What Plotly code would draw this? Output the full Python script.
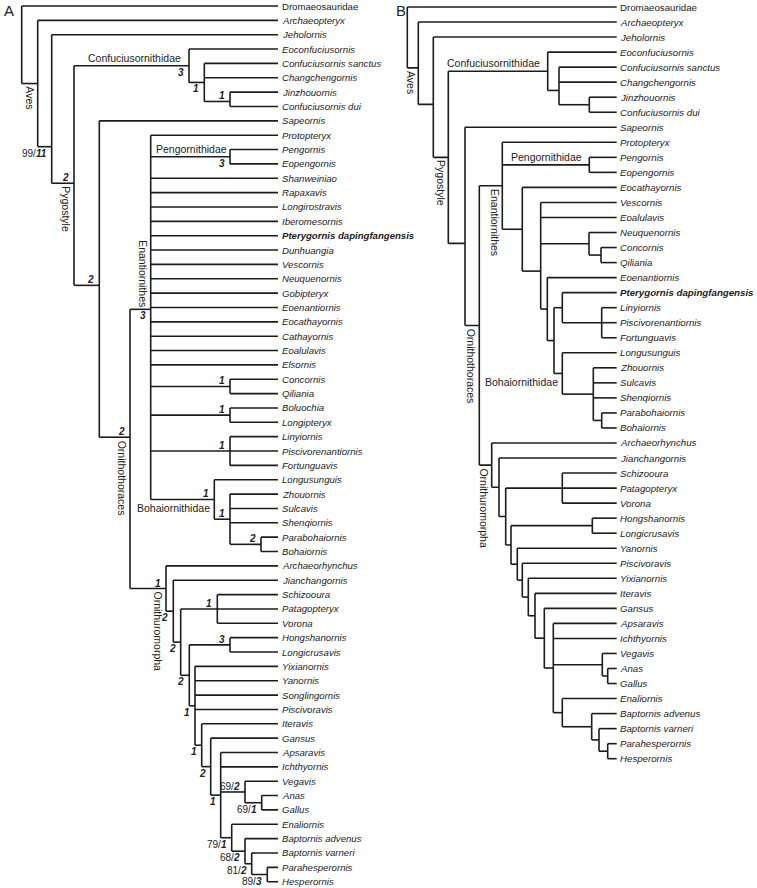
import plotly.graph_objects as go

# ---------------- Tree A (data) ----------------
A_LEAVES = [
    "Dromaeosauridae", "Archaeopteryx", "Jeholornis", "Eoconfuciusornis",
    "Confuciusornis sanctus", "Changchengornis", "Jinzhouornis", "Confuciusornis dui",
    "Sapeornis", "Protopteryx", "Pengornis", "Eopengornis", "Shanweiniao", "Rapaxavis",
    "Longirostravis", "Iberomesornis", "Pterygornis dapingfangensis", "Dunhuangia",
    "Vescornis", "Neuquenornis", "Gobipteryx", "Eoenantiornis", "Eocathayornis",
    "Cathayornis", "Eoalulavis", "Elsornis", "Concornis", "Qiliania", "Boluochia",
    "Longipteryx", "Linyiornis", "Piscivorenantiornis", "Fortunguavis", "Longusunguis",
    "Zhouornis", "Sulcavis", "Shenqiornis", "Parabohaiornis", "Bohaiornis",
    "Archaeorhynchus", "Jianchangornis", "Schizooura", "Patagopteryx", "Vorona",
    "Hongshanornis", "Longicrusavis", "Yixianornis", "Yanornis", "Songlingornis",
    "Piscivoravis", "Iteravis", "Gansus", "Apsaravis", "Ichthyornis", "Vegavis",
    "Anas", "Gallus", "Enaliornis", "Baptornis advenus", "Baptornis varneri",
    "Parahesperornis", "Hesperornis",
]
A_NODES = ["R", "Aves", "N2", "P", "C", "C2", "C3", "O1", "Or", "E", "Peng", "CQ", "BL",
           "LPF", "B", "B2", "B3", "U", "U2", "U3", "SPV", "U4", "HL", "U5", "U6", "U7",
           "U8", "V1", "V2", "H1", "H2", "H3", "H4"]
A_DEPTH = [21.7, 37.7, 51.7, 74, 189, 204.3, 230, 99.3, 130, 150.7, 230, 230, 230,
           230, 214.3, 230, 261, 166, 173.3, 180.7, 217.3, 189.3, 230, 195, 201.7, 210.7,
           220.7, 245, 261.7, 231.7, 245, 251.7, 267.3]
A_CHILDREN = [
    ["Dromaeosauridae", "Aves"],
    ["Archaeopteryx", "N2"],
    ["Jeholornis", "P"],
    ["C", "O1"],
    ["Eoconfuciusornis", "C2"],
    ["Confuciusornis sanctus", "Changchengornis", "C3"],
    ["Jinzhouornis", "Confuciusornis dui"],
    ["Sapeornis", "Or"],
    ["E", "U"],
    ["Protopteryx", "Peng", "Shanweiniao", "Rapaxavis", "Longirostravis", "Iberomesornis",
     "Pterygornis dapingfangensis", "Dunhuangia", "Vescornis", "Neuquenornis", "Gobipteryx",
     "Eoenantiornis", "Eocathayornis", "Cathayornis", "Eoalulavis", "Elsornis", "CQ", "BL",
     "LPF", "B"],
    ["Pengornis", "Eopengornis"],
    ["Concornis", "Qiliania"],
    ["Boluochia", "Longipteryx"],
    ["Linyiornis", "Piscivorenantiornis", "Fortunguavis"],
    ["Longusunguis", "B2"],
    ["Zhouornis", "Sulcavis", "Shenqiornis", "B3"],
    ["Parabohaiornis", "Bohaiornis"],
    ["Archaeorhynchus", "U2"],
    ["Jianchangornis", "U3"],
    ["SPV", "U4"],
    ["Schizooura", "Patagopteryx", "Vorona"],
    ["HL", "U5"],
    ["Hongshanornis", "Longicrusavis"],
    ["Yixianornis", "Yanornis", "Songlingornis", "Piscivoravis", "U6"],
    ["Iteravis", "U7"],
    ["Gansus", "U8"],
    ["Apsaravis", "Ichthyornis", "V1", "H1"],
    ["Vegavis", "V2"],
    ["Anas", "Gallus"],
    ["Enaliornis", "H2"],
    ["Baptornis advenus", "H3"],
    ["Baptornis varneri", "H4"],
    ["Parahesperornis", "Hesperornis"],
]
A_TIP = 278
# support: node, bootstrap, Bremer
A_SUP_NODE = ["N2", "P", "C", "C2", "C3", "Peng", "O1", "Or", "E", "CQ", "BL", "LPF", "B",
              "B2", "B3", "U", "U2", "U3", "SPV", "U4", "HL", "U5", "U6", "U7", "U8",
              "V1", "V2", "H1", "H2", "H3", "H4"]
A_SUP_BOOT = [99, None, None, None, None, None, None, None, None, None, None, None, None,
              None, None, None, None, None, None, None, None, None, None, None, None,
              69, 69, 79, 68, 81, 89]
A_SUP_BREMER = [11, 2, 3, 1, 1, 3, 2, 2, 3, 1, 1, 1, 1,
                1, 2, 1, 2, 2, 1, 2, 3, 1, 1, 2, 1,
                2, 1, 1, 2, 2, 3]
A_SUP_SIDE = ["below", "above", "below", "below", "above", "below", "above", "above", "below",
              "above", "above", "above", "above", "above", "above", "above", "below", "below",
              "above", "below", "above", "below", "below", "below", "below",
              "above", "below", "below", "below", "below", "below"]
A_CLADE_NAME = ["Aves", "Pygostyle", "Ornithothoraces", "Enantiornithes", "Ornithuromorpha",
                "Confuciusornithidae", "Pengornithidae", "Bohaiornithidae"]
A_CLADE_NODE = ["Aves", "P", "Or", "E", "U", "C", "Peng", "B"]
A_CLADE_ROT = [True, True, True, True, True, False, False, False]
A_CLADE_SIDE = ["below", "below", "below", "above", "below", "above", "above", "below"]
A_CLADE_SHIFT = [0, 0, 0, 0, 0, -6, -1, -2]

# ---------------- Tree B (data) ----------------
B_LEAVES = [
    "Dromaeosauridae", "Archaeopteryx", "Jeholornis", "Eoconfuciusornis",
    "Confuciusornis sanctus", "Changchengornis", "Jinzhouornis", "Confuciusornis dui",
    "Sapeornis", "Protopteryx", "Pengornis", "Eopengornis", "Eocathayornis", "Vescornis",
    "Eoalulavis", "Neuquenornis", "Concornis", "Qiliania", "Eoenantiornis",
    "Pterygornis dapingfangensis", "Linyiornis", "Piscivorenantiornis", "Fortunguavis",
    "Longusunguis", "Zhouornis", "Sulcavis", "Shenqiornis", "Parabohaiornis", "Bohaiornis",
    "Archaeorhynchus", "Jianchangornis", "Schizooura", "Patagopteryx", "Vorona",
    "Hongshanornis", "Longicrusavis", "Yanornis", "Piscivoravis", "Yixianornis",
    "Iteravis", "Gansus", "Apsaravis", "Ichthyornis", "Vegavis", "Anas", "Gallus",
    "Enaliornis", "Baptornis advenus", "Baptornis varneri", "Parahesperornis", "Hesperornis",
]
B_NODES = ["Rb", "AvesB", "N2b", "Pb", "Cb", "C2b", "C3b", "O1b", "Orb", "Eb", "Pengb",
           "E2b", "E3b", "NCQb", "CQb", "E4b", "E5b", "PLPFb", "LPFb", "Bb", "B2b", "B3b",
           "Ub", "U2b", "U3b", "SPVb", "U4b", "HLb", "U5b", "U6b", "U7b", "U8b", "U9b",
           "U10b", "V1b", "V2b", "H1b", "H2b", "H3b", "H4b"]
B_DEPTH = [407.3, 418.3, 433.3, 448.3, 547.7, 559, 589.3, 465, 479.3, 502.3, 589.3,
           522.3, 540.7, 589, 601, 547.3, 554, 562.3, 601.7, 562.3, 593.3, 601.7,
           491.7, 499, 505.7, 562.3, 511, 592.3, 517.3, 522.3, 528.3, 535, 544.3,
           553.3, 602.3, 607.7, 562.3, 591.7, 599, 607.7]
B_CHILDREN = [
    ["Dromaeosauridae", "AvesB"],
    ["Archaeopteryx", "N2b"],
    ["Jeholornis", "Pb"],
    ["Cb", "O1b"],
    ["Eoconfuciusornis", "C2b"],
    ["Confuciusornis sanctus", "Changchengornis", "C3b"],
    ["Jinzhouornis", "Confuciusornis dui"],
    ["Sapeornis", "Orb"],
    ["Eb", "Ub"],
    ["Protopteryx", "Pengb", "E2b"],
    ["Pengornis", "Eopengornis"],
    ["Eocathayornis", "E3b"],
    ["Vescornis", "Eoalulavis", "NCQb", "E4b"],
    ["Neuquenornis", "CQb"],
    ["Concornis", "Qiliania"],
    ["Eoenantiornis", "E5b"],
    ["PLPFb", "Bb"],
    ["Pterygornis dapingfangensis", "LPFb"],
    ["Linyiornis", "Piscivorenantiornis", "Fortunguavis"],
    ["Longusunguis", "B2b"],
    ["Zhouornis", "Sulcavis", "Shenqiornis", "B3b"],
    ["Parabohaiornis", "Bohaiornis"],
    ["Archaeorhynchus", "U2b"],
    ["Jianchangornis", "U3b"],
    ["SPVb", "U4b"],
    ["Schizooura", "Patagopteryx", "Vorona"],
    ["HLb", "U5b"],
    ["Hongshanornis", "Longicrusavis"],
    ["Yanornis", "U6b"],
    ["Piscivoravis", "U7b"],
    ["Yixianornis", "U8b"],
    ["Iteravis", "U9b"],
    ["Gansus", "U10b"],
    ["Apsaravis", "Ichthyornis", "V1b", "H1b"],
    ["Vegavis", "V2b"],
    ["Anas", "Gallus"],
    ["Enaliornis", "H2b"],
    ["Baptornis advenus", "H3b"],
    ["Baptornis varneri", "H4b"],
    ["Parahesperornis", "Hesperornis"],
]
B_TIP = 616.7
B_CLADE_NAME = ["Aves", "Pygostyle", "Enantiornithes", "Ornithothoraces", "Ornithuromorpha",
                "Confuciusornithidae", "Pengornithidae", "Bohaiornithidae"]
B_CLADE_NODE = ["AvesB", "Pb", "Eb", "Orb", "Ub", "Cb", "Pengb", "Bb"]
B_CLADE_ROT = [True, True, True, True, True, False, False, False]
B_CLADE_SIDE = ["below", "below", "below", "below", "below", "above", "above", "below"]
B_CLADE_SHIFT = [0, 0, 0, 0, 0, -6, -5, -2]

PANEL_LABELS = ["A", "B"]

# ---------------- layout / style ----------------
W, H = 757, 888
LINE = "#1c1c1c"
TXT = "#222222"
FONT = "Arial, 'Liberation Sans', Helvetica, sans-serif"

# where node attaches along its vertical bar (0.5 = midpoint)
A_ATTACH = {"N2": 0.754, "P": 0.535, "C3": 0.65, "O1": 0.52, "Or": 0.458, "E": 0.478}
B_ATTACH = {"AvesB": 0.556, "N2b": 0.56, "C2b": 0.62, "O1b": 0.586, "E3b": 0.644}

# leaf i drawn at pixel y0 + i*step
A_Y0, A_STEP = 6.0, 875.7 / 61
B_Y0, B_STEP = 7.0, 751.7 / 50


def build(leaves, nodes, depth, children, attach, tip):
    leaf_idx = {n: i for i, n in enumerate(leaves)}
    info = {n: (d, ch) for n, d, ch in zip(nodes, depth, children)}
    ypos = {}

    def gety(n):
        if n in leaf_idx:
            return leaf_idx[n]
        if n not in ypos:
            ys = [gety(c) for c in info[n][1]]
            f = attach.get(n, 0.5)
            ypos[n] = ys[0] + f * (ys[-1] - ys[0])
        return ypos[n]

    xs, ys = [], []
    for n in nodes:
        d, ch = info[n]
        cy = [gety(c) for c in ch]
        xs += [d, d, None]
        ys += [min(cy), max(cy), None]
        for c, yc in zip(ch, cy):
            xc = tip if c in leaf_idx else info[c][0]
            xs += [d, xc, None]
            ys += [yc, yc, None]
    for n in nodes:
        gety(n)
    return xs, ys, ypos, info


ax, ay, a_y, a_info = build(A_LEAVES, A_NODES, A_DEPTH, A_CHILDREN, A_ATTACH, A_TIP)
bx, by, b_y, b_info = build(B_LEAVES, B_NODES, B_DEPTH, B_CHILDREN, B_ATTACH, B_TIP)

fig = go.Figure()
fig.add_trace(go.Scatter(x=ax, y=ay, mode="lines", xaxis="x", yaxis="y",
                         line=dict(color=LINE, width=1.6), hoverinfo="skip", showlegend=False))
fig.add_trace(go.Scatter(x=bx, y=by, mode="lines", xaxis="x2", yaxis="y2",
                         line=dict(color=LINE, width=1.6), hoverinfo="skip", showlegend=False))

ann = []


def leaf_text(name):
    if name == "Dromaeosauridae":
        return name
    if name == "Pterygornis dapingfangensis":
        return "<b><i>" + name + "</i></b>"
    return "<i>" + name + "</i>"


for leaves, tip, xr, yr, fs in [(A_LEAVES, A_TIP, "x", "y", 9.6), (B_LEAVES, B_TIP, "x2", "y2", 9.7)]:
    for i, n in enumerate(leaves):
        ann.append(dict(x=tip, y=i, xref=xr, yref=yr, text=leaf_text(n), showarrow=False,
                        xanchor="left", yanchor="middle", xshift=1.5,
                        font=dict(family=FONT, size=fs, color=TXT)))

# support values (tree A)
for n, bt, br, side in zip(A_SUP_NODE, A_SUP_BOOT, A_SUP_BREMER, A_SUP_SIDE):
    t = "<b><i>%d</i></b>" % br
    if bt is not None:
        t = "%d/" % bt + t
    ann.append(dict(x=a_info[n][0], y=a_y[n], xref="x", yref="y", text=t, showarrow=False,
                    xanchor="right", yanchor="bottom" if side == "above" else "top",
                    xshift=-3, yshift=-2 if side == "above" else 1,
                    font=dict(family=FONT, size=10, color=TXT)))

# clade names
for names, cnodes, rots, sides, shifts, info, ypos, xr, yr in [
        (A_CLADE_NAME, A_CLADE_NODE, A_CLADE_ROT, A_CLADE_SIDE, A_CLADE_SHIFT, a_info, a_y, "x", "y"),
        (B_CLADE_NAME, B_CLADE_NODE, B_CLADE_ROT, B_CLADE_SIDE, B_CLADE_SHIFT, b_info, b_y, "x2", "y2")]:
    for name, n, rot, side, sh in zip(names, cnodes, rots, sides, shifts):
        ann.append(dict(x=info[n][0], y=ypos[n], xref=xr, yref=yr, text=name, showarrow=False,
                        textangle=90 if rot else 0,
                        xanchor="right", yanchor="bottom" if side == "above" else "top",
                        xshift=sh, yshift=(0 if side == "above" else -1),
                        font=dict(family=FONT, size=10.5, color=TXT)))

# panel letters
ann.append(dict(x=0.003, y=0.9995, xref="paper", yref="paper", text=PANEL_LABELS[0], showarrow=False,
                xanchor="left", yanchor="top", font=dict(family=FONT, size=15, color=TXT)))
ann.append(dict(x=0.52, y=0.9995, xref="paper", yref="paper", text=PANEL_LABELS[1], showarrow=False,
                xanchor="left", yanchor="top", font=dict(family=FONT, size=15, color=TXT)))

half = W / 2
fig.update_layout(
    width=W, height=H, margin=dict(l=0, r=0, t=0, b=0),
    paper_bgcolor="white", plot_bgcolor="white",
    xaxis=dict(domain=[0, 0.5], range=[0, half], visible=False),
    xaxis2=dict(domain=[0.5, 1], range=[half, W], visible=False),
    yaxis=dict(domain=[0, 1], range=[(H - A_Y0) / A_STEP, -A_Y0 / A_STEP], visible=False),
    yaxis2=dict(domain=[0, 1], range=[(H - B_Y0) / B_STEP, -B_Y0 / B_STEP], visible=False,
                anchor="x2"),
    annotations=ann,
    showlegend=False,
)

fig.write_html("out.html", config={"displayModeBar": False},
               post_script="document.body.style.margin='0';")
